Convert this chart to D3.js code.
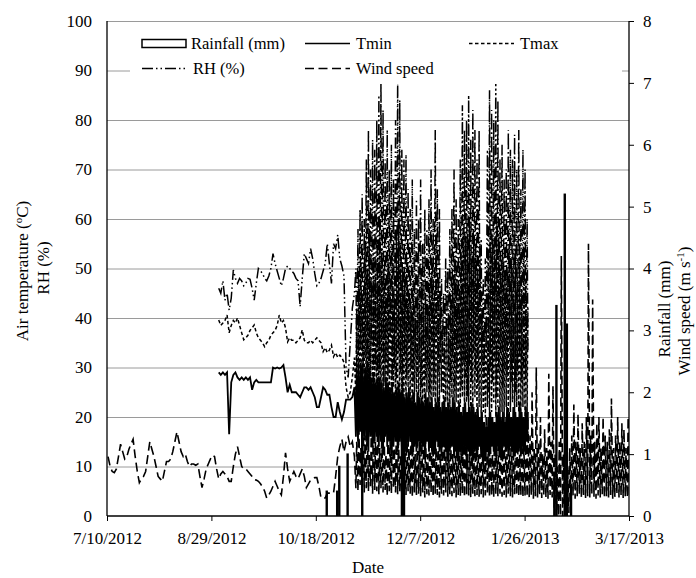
<!DOCTYPE html>
<html><head><meta charset="utf-8">
<script src="https://cdn.jsdelivr.net/npm/d3@7"></script>
<style>
body{margin:0;background:#fff;}
text{font-family:"Liberation Serif","Times New Roman",serif;fill:#000;}
</style></head>
<body>
<svg id="chart" width="696" height="578"></svg>
<script>
// ---------------- DATA ----------------
const originDate = "2012-07-10";           // day 0 of the record
const xTickLabels = ["7/10/2012","8/29/2012","10/18/2012","12/7/2012","1/26/2013","3/17/2013"];
const leftTicks = [0,10,20,30,40,50,60,70,80,90,100];
const rightTicks = [0,1,2,3,4,5,6,7,8];

// Wind speed (m/s), daily, day 0 .. 118
const windDaily = [0.96,0.80,0.72,0.70,0.76,0.96,1.16,1.04,0.92,0.96,
1.08,1.16,1.24,0.96,0.72,0.54,0.60,0.64,0.72,0.96,
1.20,1.08,0.96,0.80,0.64,0.60,0.56,0.72,0.88,0.88,
0.92,1.04,1.20,1.36,1.20,1.04,0.96,1.00,0.88,0.80,
0.84,0.84,0.82,0.84,0.64,0.46,0.60,0.76,0.84,0.92,
0.98,0.96,0.76,0.60,0.68,0.72,0.68,0.64,0.56,0.56,
0.80,1.00,1.12,0.96,0.80,0.76,0.76,0.72,0.68,0.64,
0.59,0.58,0.56,0.52,0.47,0.40,0.29,0.34,0.40,0.48,
0.56,0.48,0.40,0.34,0.64,1.02,0.76,0.56,0.64,0.72,
0.64,0.60,0.68,0.76,0.64,0.46,0.52,0.58,0.60,0.62,
0.62,0.48,0.29,0.29,0.29,0.37,0.37,0.37,0.37,0.64,
0.96,1.12,1.24,1.04,1.20,1.28,1.12,1.20,0.96];

// Daily Tmin, Tmax, RH, day 53 .. 118
const dailyStartDay = 53;
const tminDaily = [29,28.5,29,28.5,29,16.5,27,28.5,29,28,
27.5,28,27.5,28,27.5,28,25.5,27,27.5,27,
27,27,27,27,27,27,30,29.8,30,29.8,
30,30.5,28,25,26.5,25,25,25,24.5,24,
25,26,26,25.5,26,25,24,22,22,24,
26,25.5,24.5,24.5,22,20,20,23,21,19.5,
21,23.5,23.5,23.5,24,26];
const tmaxDaily = [39.6,38.5,39,39.5,40.6,37,38.5,39.5,39,40,
38.5,37,35.6,36,36.5,37.5,38,38.6,37,36,
35.5,35,34.2,35,35.5,36.5,37,37.5,38.5,40.6,
39,39.5,38,35.2,36,35.5,35.5,35,35.5,36,
37.6,35.5,35,35,35.5,35,35.5,36,35.5,35,
33.2,34,33,33.5,34.5,32.2,33,32,32.5,32,
31,26,24,25,28,32];
const rhDaily = [46,45,47.5,43.6,45,41.6,44,49.7,48,47,
48,47.5,46.5,47,48,47.8,46,43.6,47,50,
49.5,49,48,47.5,48.5,50,53,51,49.5,48,
46.5,48,50,50.5,50,49.5,49,48,47.5,42.3,
48,53,52,51,54,52,49,46.5,47,48,
49.5,51,55,51,47,55,54,56.8,52,50.5,
48.5,30,28,35,42,45];

// Sub-daily period: daily low / high readings, day 119 .. 201
const denseStartDay = 119;
const rhHigh = [50,58,62,65,60,72,78,70,76,74,
80,85,88,82,72,78,70,75,68,80,
88,84,74,72,73,66,62,68,58,64,
60,68,55,62,58,64,70,60,78,66,
62,48,45,52,50,58,62,70,64,60,
72,83,78,80,85,76,82,78,72,78,
56,48,52,74,86,82,80,88,84,72,
75,68,70,78,74,72,77,70,78,66,
74,70,60];
const rhLow = [30,28,34,26,32,25,28,35,27,30,
24,29,33,26,31,28,36,25,30,27,
33,29,26,32,28,35,30,27,33,29,
31,26,34,28,30,25,32,27,35,29,
31,33,28,36,30,27,32,25,29,34,
26,31,28,24,30,27,33,29,26,35,
31,28,34,25,30,27,32,24,29,33,
26,30,28,35,27,31,25,29,32,27,
30,28,33];
const tmaxHigh = [42,48,52,45,55,50,58,47,53,49,
56,60,54,50,46,52,48,55,44,57,
60,55,50,48,52,45,42,47,40,46,
43,48,40,45,42,47,52,44,56,48,
45,38,36,40,41,44,47,52,48,45,
53,58,55,57,60,52,56,54,50,55,
42,38,40,52,58,56,54,60,57,50,
52,48,50,55,52,50,54,48,55,46,
52,48,42];
const tmaxLow = [24,22,26,23,25,21,24,27,22,25,
23,26,22,24,27,21,25,23,26,22,
24,21,25,23,22,26,24,21,23,25,
22,24,21,23,25,22,20,24,21,23,
22,25,21,23,20,22,24,21,23,20,
22,24,21,23,20,22,21,24,20,22,
19,21,20,22,19,21,23,20,22,19,
21,20,22,19,21,23,20,22,21,19,
22,20,21];
const tminHigh = [30,29,31,28,30,29,30,28,29,27,
28,28,27,26,28,27,26,27,25,26,
27,25,26,24,25,26,24,25,23,25,
24,24,23,25,24,23,24,22,23,24,
22,23,24,22,23,22,24,23,22,23,
21,22,23,21,22,23,22,21,22,20,
21,19,18,20,21,20,19,21,22,20,
21,19,22,21,20,22,21,20,23,21,
20,22,21];
const tminLow = [16,15,17,14,16,15,13,16,14,15,
16,14,15,13,16,14,15,12,14,15,
13,15,14,16,13,14,15,12,14,13,
15,13,14,12,15,13,14,12,13,15,
13,12,14,13,11,13,14,12,13,11,
13,12,14,11,13,12,11,13,12,14,
12,10,11,13,12,14,13,12,14,13,
12,14,13,12,14,13,12,14,13,12,
14,13,15];
// Wind speed (m/s) daily low / high, day 119 .. 250
const windHigh = [1.2,1.5,1.1,1.8,1.3,1.6,1.0,1.4,1.7,1.2,
1.5,1.1,1.3,1.6,1.0,1.4,1.2,1.7,1.1,1.5,
1.3,1.0,1.6,1.2,1.4,1.1,1.5,1.3,1.0,1.4,
1.2,1.6,1.1,1.3,1.0,1.5,1.2,1.4,1.1,1.3,
1.0,1.4,1.2,1.6,1.1,1.3,1.0,1.5,1.2,1.4,
1.1,1.3,1.6,1.0,1.2,1.4,1.1,1.5,1.3,1.0,
1.4,1.2,1.6,1.1,1.3,1.0,1.5,1.2,1.4,1.1,
1.3,1.6,1.0,1.2,1.4,1.1,1.5,1.3,1.0,1.4,
1.2,1.5,1.6,
1.3,2.0,1.1,2.4,1.2,1.6,1.0,1.4,1.1,2.3,
1.2,2.1,1.0,0.8,1.2,4.2,1.0,0.6,0.8,1.1,
1.3,1.8,1.2,1.65,1.1,1.5,1.2,1.6,4.4,1.3,
3.5,1.2,1.5,1.6,1.1,1.6,1.3,1.2,1.4,1.9,
1.1,1.3,1.6,1.2,1.5,1.4,1.1,1.6,1.3];
const windLow = [0.45,0.40,0.50,0.42,0.38,0.45,0.40,0.48,0.36,0.42,
0.40,0.35,0.45,0.38,0.42,0.33,0.40,0.36,0.44,0.38,
0.35,0.40,0.32,0.38,0.34,0.40,0.36,0.30,0.38,0.34,
0.36,0.32,0.38,0.30,0.35,0.33,0.38,0.31,0.36,0.34,
0.30,0.36,0.33,0.38,0.31,0.35,0.32,0.37,0.30,0.34,
0.32,0.36,0.30,0.35,0.33,0.30,0.36,0.32,0.34,0.31,
0.35,0.30,0.33,0.36,0.31,0.34,0.30,0.35,0.32,0.36,
0.31,0.34,0.30,0.36,0.32,0.30,0.35,0.33,0.31,0.34,
0.30,0.33,0.31,
0.30,0.34,0.28,0.32,0.30,0.35,0.29,0.33,0.30,0.28,
0.34,0.30,0.10,0,0,0,0,0,0,0.05,
0.30,0.33,0.28,0.32,0.36,0.30,0.34,0.29,0.32,0.30,
0.35,0.31,0.28,0.33,0.30,0.35,0.29,0.32,0.30,0.34,
0.28,0.31,0.35,0.30,0.33,0.29,0.32,0.30,0.34];

// Rainfall (mm)
const rainDates = ["2012-10-23","2012-10-28","2012-10-29","2012-11-02","2012-11-09","2012-11-28","2012-11-29","2013-02-09","2013-02-10","2013-02-14","2013-02-15","2013-02-17"];
const rainMm = [0.4,0.4,0.8,1.0,2.4,2.0,1.8,0.6,3.4,5.2,3.1,0.5];

// ---------------- CHART ----------------
const svg = d3.select("#chart");
const parse = d3.timeParse("%Y-%m-%d");
const d0 = parse(originDate);
const tickDates = xTickLabels.map(d3.timeParse("%m/%d/%Y"));
const x = d3.scaleTime().domain([tickDates[0], tickDates[tickDates.length-1]]).range([107, 629]);
const yL = d3.scaleLinear().domain([0,100]).range([516,21]);
const yR = d3.scaleLinear().domain([0,8]).range([516,21]);
const dayAt = (n, h) => d3.timeHour.offset(d3.timeDay.offset(d0, n), h);

// gridlines
svg.append("g").selectAll("line").data(leftTicks.filter(d=>d>0)).join("line")
  .attr("x1",107).attr("x2",629).attr("y1",d=>yL(d)+0.5).attr("y2",d=>yL(d)+0.5)
  .attr("stroke","#9a9a9a").attr("stroke-width",1);

svg.append("defs").append("clipPath").attr("id","clip").append("rect")
  .attr("x",107).attr("y",21).attr("width",522).attr("height",495);
const plot = svg.append("g").attr("clip-path","url(#clip)");

// series builders
function daily(startDay, vals){ return vals.map((v,i)=>({date:dayAt(startDay+i,12), v})); }
function lowHigh(startDay, lows, highs, lowFirst){
  const out=[];
  lows.forEach((lo,i)=>{
    const hi=highs[i];
    if(lowFirst){ out.push({date:dayAt(startDay+i,5),v:lo}); out.push({date:dayAt(startDay+i,14),v:hi}); }
    else { out.push({date:dayAt(startDay+i,5),v:hi}); out.push({date:dayAt(startDay+i,14),v:lo}); }
  });
  return out;
}
const tminSeries = daily(dailyStartDay, tminDaily).concat(lowHigh(denseStartDay, tminLow, tminHigh, true));
const tmaxSeries = daily(dailyStartDay, tmaxDaily).concat(lowHigh(denseStartDay, tmaxLow, tmaxHigh, true));
const rhSeries = daily(dailyStartDay, rhDaily).concat(lowHigh(denseStartDay, rhLow, rhHigh, false));
const windSeries = daily(0, windDaily).concat(lowHigh(denseStartDay, windLow, windHigh, true));

// rainfall bars (right axis)
const rain = rainDates.map((d,i)=>({date:parse(d), v:rainMm[i]}));
plot.append("g").selectAll("rect").data(rain).join("rect")
  .attr("x",d=>x(d.date)).attr("width",1)
  .attr("y",d=>yR(d.v)).attr("height",d=>yR(0)-yR(d.v))
  .attr("fill","#fff").attr("stroke","#000").attr("stroke-width",1.4);

const lineL = d3.line().x(d=>x(d.date)).y(d=>yL(d.v));
const lineR = d3.line().x(d=>x(d.date)).y(d=>yR(d.v));

plot.append("path").datum(windSeries).attr("d",lineR).attr("fill","none")
  .attr("stroke","#000").attr("stroke-width",1.6).attr("stroke-dasharray","9,4.5");
plot.append("path").datum(tminSeries).attr("d",lineL).attr("fill","none")
  .attr("stroke","#000").attr("stroke-width",1.8);
plot.append("path").datum(tmaxSeries).attr("d",lineL).attr("fill","none")
  .attr("stroke","#000").attr("stroke-width",1.5).attr("stroke-dasharray","3.5,2.5");
plot.append("path").datum(rhSeries).attr("d",lineL).attr("fill","none")
  .attr("stroke","#000").attr("stroke-width",1.5).attr("stroke-dasharray","11,3,1.5,3,1.5,3");

// axes
const fmt = d3.timeFormat("%-m/%-d/%Y");
const gx = svg.append("g").attr("transform","translate(0,516)")
  .call(d3.axisBottom(x).tickValues(tickDates).tickFormat(fmt).tickSize(5).tickPadding(11));
const gl = svg.append("g").attr("transform","translate(107,0)")
  .call(d3.axisLeft(yL).tickValues(leftTicks).tickSize(0).tickPadding(15));
const gr = svg.append("g").attr("transform","translate(629,0)")
  .call(d3.axisRight(yR).tickValues(rightTicks).tickSize(5).tickPadding(9));
[gx,gl,gr].forEach(g=>{
  g.selectAll("text").style("font-family","'Liberation Serif',serif").style("font-size","17px").attr("fill","#000");
  g.select(".domain").attr("stroke","#000").attr("stroke-width",1.3);
  g.selectAll(".tick line").attr("stroke","#000");
});
gx.select(".domain").attr("d","M107,0H629");
gl.select(".domain").attr("d","M0,21V516");
gr.select(".domain").attr("d","M0,21V516");

// axis titles
svg.append("text").attr("transform","translate(28,271) rotate(-90)").attr("text-anchor","middle")
  .style("font-size","17px")
  .html('Air temperature (<tspan font-size="11" dy="-6">o</tspan><tspan dy="6">C)</tspan>');
svg.append("text").attr("transform","translate(49,268) rotate(-90)").attr("text-anchor","middle")
  .style("font-size","17px").text("RH (%)");
svg.append("text").attr("transform","translate(670,309) rotate(-90)").attr("text-anchor","middle")
  .style("font-size","17px").text("Rainfall (mm)");
svg.append("text").attr("transform","translate(690,311) rotate(-90)").attr("text-anchor","middle")
  .style("font-size","17px")
  .html('Wind speed (m s<tspan font-size="11" dy="-6">-1</tspan><tspan dy="6">)</tspan>');
svg.append("text").attr("x",368).attr("y",573).attr("text-anchor","middle")
  .style("font-size","17px").text("Date");

// legend
const lg = svg.append("g");
lg.append("rect").attr("x",130).attr("y",27).attr("width",492).attr("height",57).attr("fill","#fff");
const legendItems = [
  {label:"Rainfall (mm)", kind:"rect", x:142, row:0},
  {label:"Tmin", kind:"line", dash:null, x:305, row:0},
  {label:"Tmax", kind:"line", dash:"3.5,2.5", x:469, row:0},
  {label:"RH (%)", kind:"line", dash:"11,3,1.5,3,1.5,3", x:142, row:1},
  {label:"Wind speed", kind:"line", dash:"9,4.5", x:305, row:1}
];
legendItems.forEach(it=>{
  const yc = it.row===0 ? 43.5 : 68.5;
  if(it.kind==="rect"){
    lg.append("rect").attr("x",it.x).attr("y",yc-4).attr("width",44).attr("height",8)
      .attr("fill","#fff").attr("stroke","#000").attr("stroke-width",1.5);
  } else {
    lg.append("line").attr("x1",it.x).attr("x2",it.x+45).attr("y1",yc).attr("y2",yc)
      .attr("stroke","#000").attr("stroke-width",1.6).attr("stroke-dasharray",it.dash);
  }
  lg.append("text").attr("x",it.x+(it.kind==="rect"?49:51)).attr("y",yc+5.5)
    .style("font-size","16.5px").text(it.label);
});
</script>
</body></html>
